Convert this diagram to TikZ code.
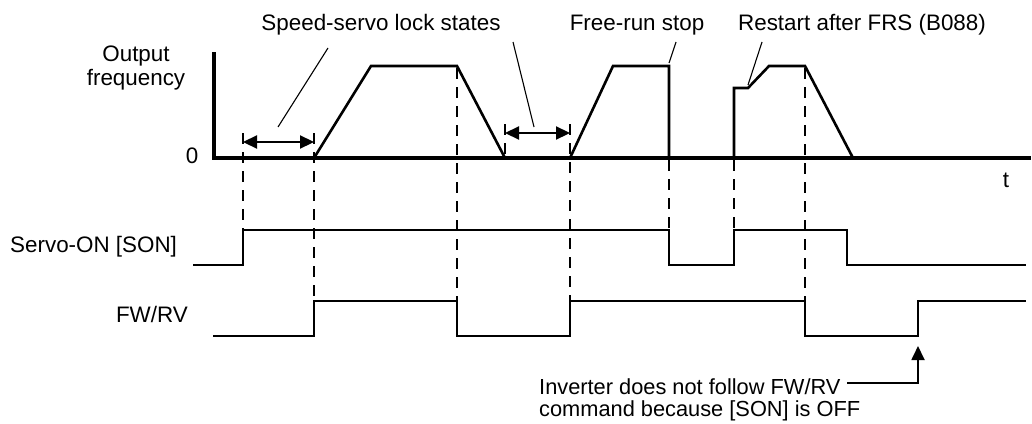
\documentclass[tikz,border=0pt]{standalone}
\usepackage{fontspec}
\setmainfont{Liberation Sans}
\usetikzlibrary{arrows.meta}
\begin{document}
\begin{tikzpicture}[x=1pt,y=-1pt,
  sig/.style={line width=2.6pt, line join=miter},
  axisline/.style={line width=3.3pt, line join=miter},
  guide/.style={line width=2.4pt, dash pattern=on 11pt off 8pt},
  leader/.style={line width=1.1pt},
  dimarrow/.style={line width=2.2pt, {Triangle[length=14pt,width=13pt]}-{Triangle[length=14pt,width=13pt]}},
  notearrow/.style={line width=1.8pt, -{Triangle[length=14pt,width=13pt]}},
  lbl/.style={font=\fontsize{22.4}{22}\selectfont, inner sep=0pt},
]
\useasboundingbox (0,0) rectangle (1032,423);

% axes
\draw[axisline] (214,52) -- (214,158) -- (1031,158);

% output frequency
\draw[sig] (314,158) -- (371,66) -- (457,66) -- (505,158);
\draw[sig] (570,158) -- (613,66) -- (669,66) -- (669,158);
\draw[sig] (734,158) -- (734,88) -- (748,88) -- (769,66) -- (805,66) -- (853,158);

% Servo-ON
\draw[sig] (193,265) -- (243,265) -- (243,230) -- (669,230) -- (669,265) -- (734,265) -- (734,230) -- (847,230) -- (847,265) -- (1026,265);

% FW/RV
\draw[sig] (213,336) -- (314,336) -- (314,301) -- (457,301) -- (457,336) -- (570,336) -- (570,301) -- (805,301) -- (805,336) -- (918,336) -- (918,301) -- (1026,301);

% dashed guides
\draw[guide] (243,133) -- (243,230);
\draw[guide] (314,133) -- (314,301);
\draw[guide] (457,68) -- (457,301);
\draw[guide] (505,124) -- (505,158);
\draw[guide] (570,124) -- (570,301);
\draw[guide] (669,160) -- (669,230);
\draw[guide] (734,160) -- (734,230);
\draw[guide] (805,68) -- (805,301);

% lock state spans
\coordinate (l1a) at (243,142);
\coordinate (l1b) at (314,142);
\coordinate (l2a) at (505,133);
\coordinate (l2b) at (570,133);
\draw[dimarrow] (l1a) -- (l1b);
\draw[dimarrow] (l2a) -- (l2b);

% labels
\node[lbl, anchor=base] (ssl) at (381,30) {Speed-servo lock states};
\node[lbl, anchor=base] (frs) at (637,30) {Free-run stop};
\node[lbl, anchor=base] (rst) at (862,30) {Restart after FRS (B088)};
\node[lbl, anchor=base, align=center] (of) at (136,85) {Output\\[2pt]frequency};
\node[lbl, anchor=base] (zero) at (192,163) {0};
\node[lbl, anchor=base] (t) at (1006,187) {t};
\node[lbl, anchor=base west] (son) at (10,252) {Servo-ON [SON]};
\node[lbl, anchor=base east] (fw) at (188,322) {FW/RV};
\node[lbl, font=\fontsize{21.8}{21.5}\selectfont, anchor=base west, align=left] (note) at (539,416) {Inverter does not follow FW/RV\\command because [SON] is OFF};

% leaders
\coordinate (p1) at (278,127);
\coordinate (p2) at (534,127);
\coordinate (p3) at (669,63);
\coordinate (p4) at (748,85);
\draw[leader] (328,48) -- (p1);
\draw[leader] (513,42) -- (p2);
\draw[leader] (676,42) -- (p3);
\draw[leader] (762,42) -- (p4);

\coordinate (noteend) at (847,383);
\coordinate (fwrise) at (918,346);
\draw[notearrow] (noteend) -- (918,383) -- (fwrise);
\end{tikzpicture}
\end{document}
